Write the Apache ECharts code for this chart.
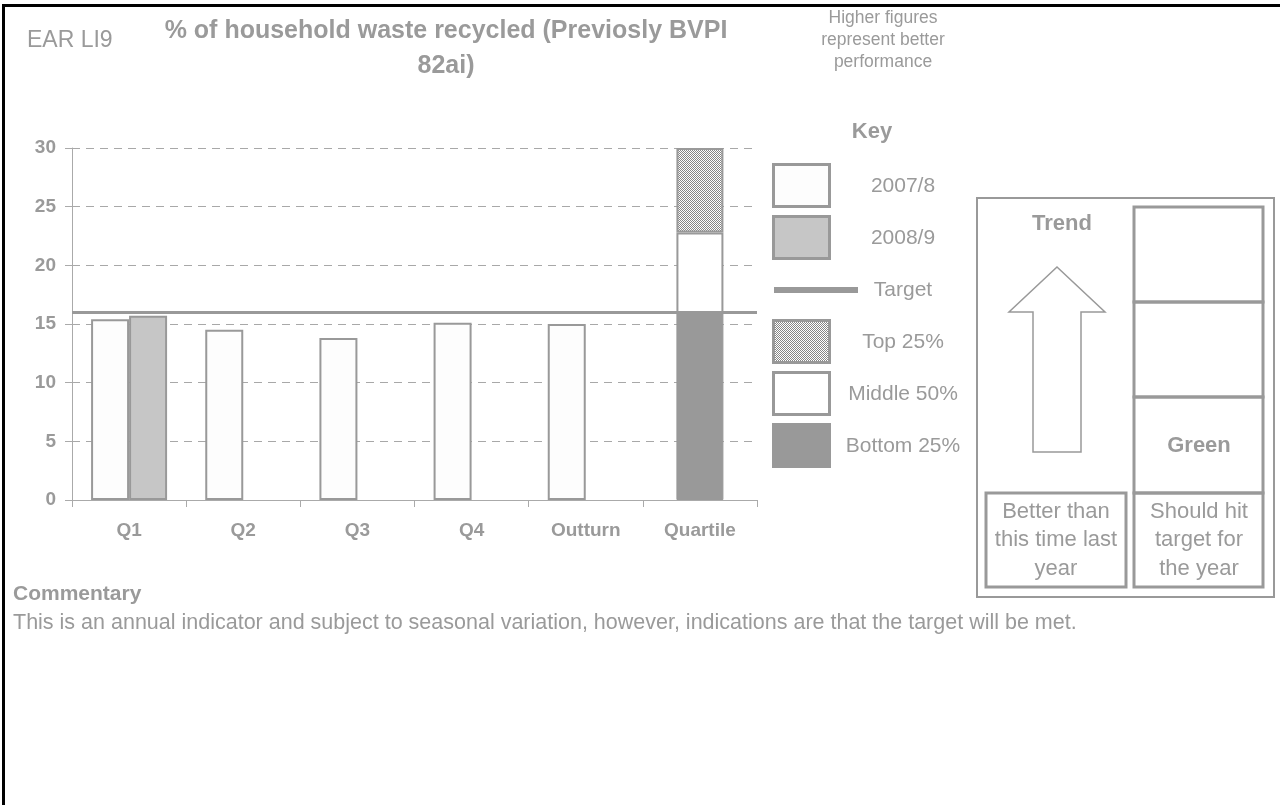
<!DOCTYPE html>
<html>
<head>
<meta charset="utf-8">
<script src="https://cdn.jsdelivr.net/npm/echarts@6/dist/echarts.min.js"></script>
<style>
  html, body { margin: 0; padding: 0; background: #fff; }
  #chart { width: 1280px; height: 805px; }
</style>
</head>
<body>
<div id="chart"></div>
<script>
// ---- data ----
const categories = ['Q1', 'Q2', 'Q3', 'Q4', 'Outturn', 'Quartile'];
const values2007 = [15.4, 14.5, 13.8, 15.1, 15.0, null];
const values2008 = [15.7, null, null, null, null, null];
const targetValue = 16;
// quartile bands, stacked from the bottom up
const quartileBottom = [null, null, null, null, null, 15.9];
const quartileMiddle = [null, null, null, null, null, 6.9];
const quartileTop = [null, null, null, null, null, 7.2];
const yMin = 0, yMax = 30, yStep = 5;

const keyLabels = ['2007/8', '2008/9', 'Target', 'Top 25%', 'Middle 50%', 'Bottom 25%'];
const indicatorCode = 'EAR LI9';
const titleLines = ['% of household waste recycled (Previosly BVPI', '82ai)'];
const directionNote = ['Higher figures', 'represent better', 'performance'];
const commentaryHead = 'Commentary';
const commentaryText = 'This is an annual indicator and subject to seasonal variation, however, indications are that the target will be met.';
const trendHead = 'Trend';
const trendCaption = ['Better than', 'this time last', 'year'];
const ragStatus = 'Green';
const ragCaption = ['Should hit', 'target for', 'the year'];

// ---- styling ----
const GREY = '#999999';
const TEXT = '#9a9a9a';
const FONT = '"Liberation Sans", Arial, Helvetica, sans-serif';

// fine chequered fill used for the top quartile band
const chequer = document.createElement('canvas');
chequer.width = 2; chequer.height = 2;
(function () {
  const g = chequer.getContext('2d');
  g.fillStyle = '#ffffff'; g.fillRect(0, 0, 2, 2);
  g.fillStyle = '#868686'; g.fillRect(0, 0, 1, 1); g.fillRect(1, 1, 1, 1);
})();
const chequerFill = { image: chequer, repeat: 'repeat' };

const keyStyles = [
  { kind: 'box', fill: '#fdfdfd', stroke: GREY },
  { kind: 'box', fill: '#c6c6c6', stroke: GREY },
  { kind: 'line' },
  { kind: 'box', fill: chequerFill, stroke: GREY },
  { kind: 'box', fill: '#ffffff', stroke: GREY },
  { kind: 'box', fill: GREY, stroke: GREY }
];

function txt(x, y, text, size, bold, align, extra) {
  return {
    type: 'text', x: x, y: y, silent: true,
    style: Object.assign({
      text: text,
      font: (bold ? 'bold ' : '') + size + 'px ' + FONT,
      fill: TEXT,
      align: align || 'center',
      verticalAlign: 'middle'
    }, extra || {})
  };
}

const graphics = [];
// frame lines at top and left
graphics.push({ type: 'rect', silent: true, shape: { x: 3, y: 4, width: 1277, height: 3 }, style: { fill: '#000' } });
graphics.push({ type: 'rect', silent: true, shape: { x: 2, y: 4, width: 3, height: 801 }, style: { fill: '#000' } });

// header
graphics.push(txt(27, 41, indicatorCode, 23, false, 'left'));
graphics.push(txt(446, 31, titleLines[0], 25, true));
graphics.push(txt(446, 66, titleLines[1], 25, true));
graphics.push(txt(883, 40, directionNote.join('\n'), 17.5, false, 'center', { lineHeight: 22 }));

// key
graphics.push(txt(872, 132, 'Key', 22, true));
keyLabels.forEach(function (label, i) {
  const top = 163 + i * 52;
  const s = keyStyles[i];
  if (s.kind === 'box') {
    graphics.push({ type: 'rect', silent: true,
      shape: { x: 773.5, y: top + 1.5, width: 56, height: 42 },
      style: { fill: s.fill, stroke: s.stroke, lineWidth: 3 } });
  } else {
    graphics.push({ type: 'rect', silent: true,
      shape: { x: 774, y: top + 20, width: 84, height: 6 },
      style: { fill: GREY } });
  }
  graphics.push(txt(903, top + 23, label, 21, false));
});

// trend / status panel
graphics.push({ type: 'rect', silent: true, shape: { x: 977, y: 198, width: 297, height: 399 }, style: { fill: 'none', stroke: GREY, lineWidth: 2 } });
[[207, 302], [302, 397], [397, 493], [493, 587]].forEach(function (r) {
  graphics.push({ type: 'rect', silent: true, shape: { x: 1134, y: r[0], width: 129, height: r[1] - r[0] }, style: { fill: 'none', stroke: GREY, lineWidth: 3 } });
});
graphics.push({ type: 'rect', silent: true, shape: { x: 986, y: 493, width: 140, height: 94 }, style: { fill: 'none', stroke: GREY, lineWidth: 3 } });
graphics.push(txt(1062, 224, trendHead, 22, true));
graphics.push({ type: 'polygon', silent: true,
  shape: { points: [[1057, 267], [1105, 312], [1081, 312], [1081, 452], [1033, 452], [1033, 312], [1009, 312]] },
  style: { fill: '#fff', stroke: GREY, lineWidth: 1.5 } });
graphics.push(txt(1199, 446, ragStatus, 22, true));
graphics.push(txt(1056, 540, trendCaption.join('\n'), 22, false, 'center', { lineHeight: 28.5 }));
graphics.push(txt(1199, 540, ragCaption.join('\n'), 22, false, 'center', { lineHeight: 28.5 }));

// commentary
graphics.push(txt(13, 594, commentaryHead, 21, true, 'left'));
graphics.push(txt(13, 623, commentaryText, 21.5, false, 'left'));

const barBorder = { borderColor: GREY, borderWidth: 2 };

const option = {
  animation: false,
  backgroundColor: '#ffffff',
  grid: { left: 72, right: 523, top: 148, bottom: 305, containLabel: false },
  xAxis: [
    {
      type: 'category', data: categories,
      axisLine: { lineStyle: { color: '#aaaaaa', width: 1 } },
      axisTick: { show: true, length: 7, lineStyle: { color: '#aaaaaa' } },
      axisLabel: { color: TEXT, fontSize: 19, fontWeight: 'bold', fontFamily: FONT, margin: 21 }
    },
    { type: 'category', data: categories, show: false }
  ],
  yAxis: {
    type: 'value', min: yMin, max: yMax, interval: yStep,
    axisLine: { show: true, lineStyle: { color: '#aaaaaa', width: 1 } },
    axisTick: { show: true, length: 7, lineStyle: { color: '#aaaaaa' } },
    axisLabel: { color: TEXT, fontSize: 19, fontWeight: 'bold', fontFamily: FONT, margin: 16 },
    splitLine: { show: true, lineStyle: { color: '#a8a8a8', type: [8, 6], width: 1 } }
  },
  series: [
    {
      name: keyLabels[0], type: 'bar', xAxisIndex: 0, data: values2007,
      barWidth: 38, barGap: '0%',
      itemStyle: Object.assign({ color: '#fdfdfd' }, barBorder),
      markLine: {
        silent: true, symbol: 'none', label: { show: false },
        lineStyle: { color: GREY, type: 'solid', width: 3 },
        data: [{ yAxis: targetValue }]
      }
    },
    {
      name: keyLabels[1], type: 'bar', xAxisIndex: 0, data: values2008,
      barWidth: 38, barGap: '0%',
      itemStyle: Object.assign({ color: '#c6c6c6' }, barBorder)
    },
    {
      name: keyLabels[5], type: 'bar', xAxisIndex: 1, stack: 'quartile', data: quartileBottom,
      barWidth: 47, itemStyle: { color: GREY, borderColor: GREY, borderWidth: 1 }
    },
    {
      name: keyLabels[4], type: 'bar', xAxisIndex: 1, stack: 'quartile', data: quartileMiddle,
      barWidth: 47, itemStyle: Object.assign({ color: '#ffffff' }, barBorder)
    },
    {
      name: keyLabels[3], type: 'bar', xAxisIndex: 1, stack: 'quartile', data: quartileTop,
      barWidth: 47, itemStyle: Object.assign({ color: chequerFill }, barBorder)
    }
  ],
  graphic: graphics
};

const chart = echarts.init(document.getElementById('chart'), null, { renderer: 'canvas' });
chart.setOption(option);
</script>
</body>
</html>
